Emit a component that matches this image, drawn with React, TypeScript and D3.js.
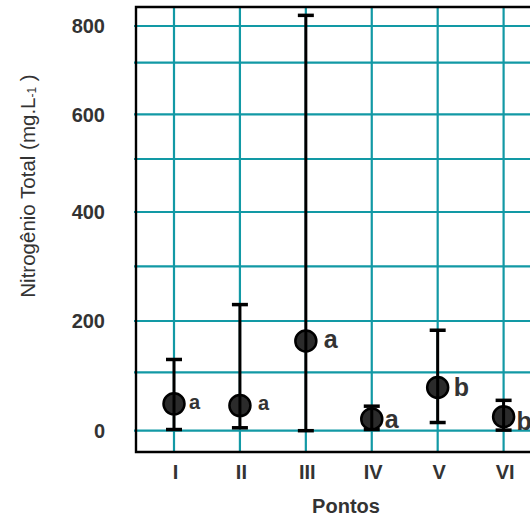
import React from "react";
import * as d3 from "d3";

// ---- data ----
const categories = ["I", "II", "III", "IV", "V", "VI"];
const meanValues = [46, 43, 161, 20, 74, 24];
const upperValues = [125, 230, 829, 42, 182, 52];
const lowerValues = [2, 5, 0, 2, 14, 1];
const groupLetters = ["a", "a", "a", "a", "b", "b"];
const yTickLabels = [0, 200, 400, 600, 800];
const yGridValues = [0, 100, 200, 300, 400, 500, 600, 700, 800];

// ---- layout (the original axis is not evenly spaced; calibrate a piecewise scale) ----
const W = 530;
const H = 516;
const frame = { left: 136, top: 7, bottom: 452, right: 545 };
const yGridPixels = [430.7, 372.3, 321, 266.3, 212, 159, 114.3, 62.7, 26];
const letterSize = [20, 20, 25, 25, 25, 25];
const letterNudge = [
  [5, 5],
  [8, 4],
  [8, 6.5],
  [3, 9],
  [6, 9],
  [3, 13],
];

const TEAL = "#1299a5";
const TXT = "#333333";
const FONT = "'Liberation Sans', Arial, Helvetica, sans-serif";

export default function App() {
  const x = d3
    .scalePoint<string>()
    .domain(categories)
    .range([174, 503.6]);
  const y = d3.scaleLinear().domain(yGridValues).range(yGridPixels);

  const r = 10;
  const capHalf = 8;

  return (
    <svg
      width={W}
      height={H}
      style={{ position: "absolute", left: 0, top: 0, background: "#fff" }}
      fontFamily={FONT}
    >
      {/* grid */}
      {yGridValues.map((v) => (
        <line
          key={"h" + v}
          x1={frame.left - 2}
          x2={frame.right}
          y1={y(v)}
          y2={y(v)}
          stroke={TEAL}
          strokeWidth={2.2}
        />
      ))}
      {categories.map((c) => (
        <line
          key={"v" + c}
          x1={x(c)}
          x2={x(c)}
          y1={frame.top}
          y2={frame.bottom}
          stroke={TEAL}
          strokeWidth={2.2}
        />
      ))}
      {/* frame */}
      <path
        d={`M${frame.right},${frame.top}H${frame.left}V${frame.bottom}H${frame.right}`}
        fill="none"
        stroke="#000"
        strokeWidth={2.4}
      />

      {/* y tick labels */}
      {yTickLabels.map((v) => (
        <text
          key={"yt" + v}
          x={105}
          y={y(v)}
          dy="0.36em"
          textAnchor="end"
          fontSize={20}
          fontWeight="bold"
          fill={TXT}
        >
          {v}
        </text>
      ))}

      {/* x tick labels */}
      {categories.map((c) => (
        <text
          key={"xt" + c}
          x={(x(c) as number) + 1.5}
          y={479}
          textAnchor="middle"
          fontSize={20}
          fontWeight="bold"
          fill={TXT}
        >
          {c}
        </text>
      ))}

      {/* axis titles */}
      <text
        x={346}
        y={513}
        textAnchor="middle"
        fontSize={20}
        fontWeight="bold"
        fill={TXT}
      >
        Pontos
      </text>
      <text
        transform="translate(35,186) rotate(-90)"
        textAnchor="middle"
        fontSize={20.5}
        fill={TXT}
      >
        Nitrogênio Total (mg.L
        <tspan fontSize={12} dy={1}>-1</tspan>
        <tspan dy={-1}> )</tspan>
      </text>

      {/* points */}
      {categories.map((c, i) => {
        const cx = x(c) as number;
        const cy = y(meanValues[i]);
        return (
          <g key={"p" + c}>
            <circle cx={cx} cy={cy} r={10.5} fill="#2b2b2b" stroke="#000" strokeWidth={2.5} />
            <line
              x1={cx}
              x2={cx}
              y1={y(upperValues[i])}
              y2={y(lowerValues[i])}
              stroke="#000"
              strokeWidth={3}
            />
            <line
              x1={cx - capHalf}
              x2={cx + capHalf}
              y1={y(upperValues[i])}
              y2={y(upperValues[i])}
              stroke="#000"
              strokeWidth={3.5}
            />
            <line
              x1={cx - capHalf}
              x2={cx + capHalf}
              y1={y(lowerValues[i])}
              y2={y(lowerValues[i])}
              stroke="#000"
              strokeWidth={3.5}
            />
            <text
              x={cx + r + letterNudge[i][0]}
              y={cy + letterNudge[i][1]}
              fontSize={letterSize[i]}
              fontWeight="bold"
              fill={TXT}
            >
              {groupLetters[i]}
            </text>
          </g>
        );
      })}
    </svg>
  );
}
